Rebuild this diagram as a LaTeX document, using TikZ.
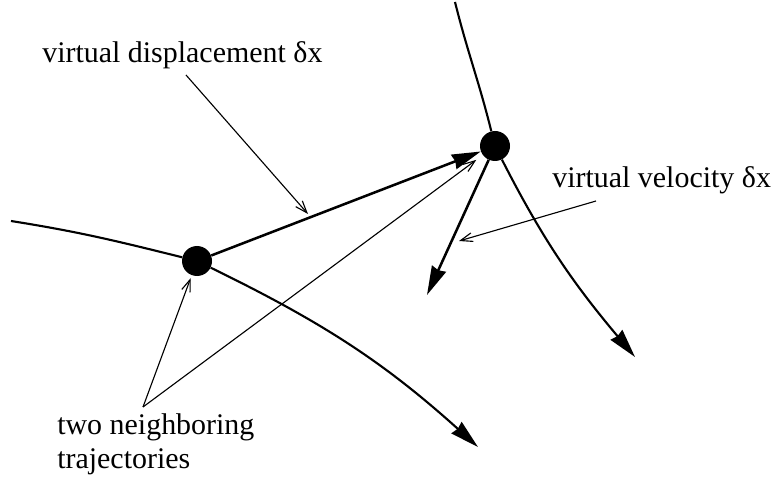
\documentclass[tikz,border=0pt]{standalone}
\usepackage{fontspec}
\setmainfont{Liberation Serif}
\usepackage{tikz}
\usetikzlibrary{arrows.meta}

\begin{document}
\begin{tikzpicture}
\tikzstyle{every node}=[font=\fontsize{21.3}{24}\selectfont, inner sep=0pt]
\tikzstyle{dot}=[circle, fill=black, minimum size=0.75cm]
\tikzstyle{traj}=[line width=1.5pt, -{Stealth[length=0.72cm, width=0.38cm, inset=0.04cm]}]
\tikzstyle{vec}=[line width=1.8pt, -{Stealth[length=0.72cm, width=0.38cm, inset=0.04cm]}]
\tikzstyle{callout}=[line width=0.8pt, -{Straight Barb[length=0.3cm, width=0.22cm]}]
\useasboundingbox (0,0) rectangle (19.35,12.15);
\node [dot] (ptA) at (4.925,5.625) {};
\node [dot] (ptB) at (12.375,8.5) {};
\coordinate (a0) at (0.275,6.625);
\coordinate (a1) at (11.95,0.975);
\coordinate (b0) at (11.375,12.1);
\coordinate (b1) at (15.875,3.225);
\coordinate (v1) at (10.675,4.775);
\draw [line width=1.5pt] (a0) to[out=-9, in=166] (ptA);
\draw [traj] (ptA) to[out=-26, in=138] (a1);
\draw [line width=1.5pt] (b0) to[out=-76, in=104] (ptB);
\draw [traj] (ptB) to[out=-63, in=130] (b1);
\draw [vec] (ptA) -- (ptB);
\draw [vec] (ptB) -- (v1);
\node [anchor=base west] (lblDisp) at (1.05,10.575) {virtual displacement δx};
\node [anchor=base west] (lblVel) at (13.8,7.45) {virtual velocity δx};
\node [anchor=base west, align=left] (lblTraj) at (1.425,0.45) {two neighboring\\trajectories};
\coordinate (c0) at (4.65,10.275);
\coordinate (c1) at (7.7,6.8);
\coordinate (c2) at (14.9,7.125);
\coordinate (c3) at (11.475,6.125);
\coordinate (c4) at (3.575,1.975);
\draw [callout] (c0) -- (c1);
\draw [callout] (c2) -- (c3);
\draw [callout, shorten >=0.075cm] (c4) -- (ptA);
\draw [callout, shorten >=0.2cm] (c4) -- (ptB);
\end{tikzpicture}
\end{document}
